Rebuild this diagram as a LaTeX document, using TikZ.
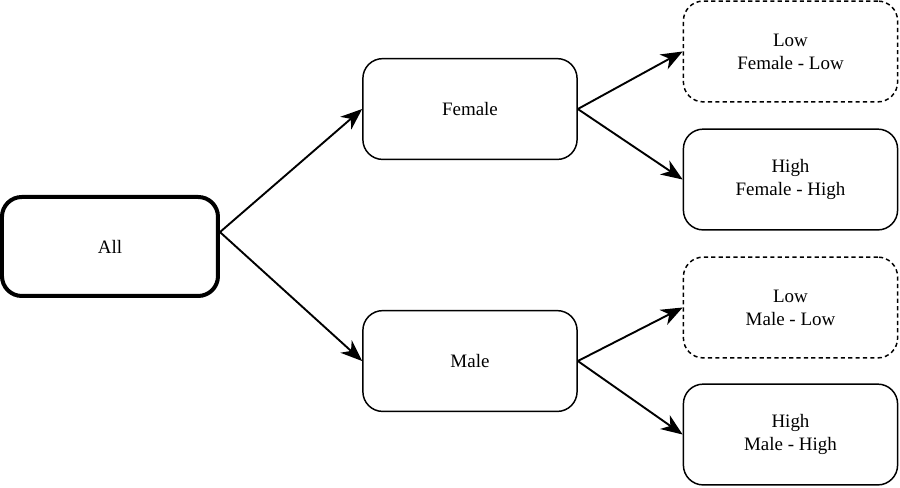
\documentclass[tikz,border=0pt]{standalone}
\usepackage{fontspec}
\setmainfont{Liberation Serif}
\usetikzlibrary{arrows.meta}
\begin{document}
\begin{tikzpicture}[>={Stealth[length=3.6mm,width=2.8mm,inset=1.1mm]},
    box/.style={draw,rounded corners=0.33cm,minimum width=3.57cm,minimum height=1.68cm,align=center,font=\small,line width=0.7pt},
    lowbox/.style={box,dash pattern=on 2pt off 1.5pt}]
\useasboundingbox (0,0) rectangle (15,-8.117);
\node[box,line width=1.9pt,minimum width=3.6cm,minimum height=1.65cm] (all) at (1.833,-4.108){All};

\node[box] (female) at (7.833,-1.817){Female};
\node[box] (male) at (7.833,-6.017){Male};

\node[lowbox] (femlow) at (13.175,-0.858){Low\\Female - Low};
\node[box] (femhigh) at (13.175,-2.992){High\\Female - High};
\node[lowbox] (mallow) at (13.175,-5.125){Low\\Male - Low};
\node[box] (malhigh) at (13.175,-7.242){High\\Male - High};

\draw[->,line width=0.9pt] ([yshift=.24cm]all.east)--(female.west);
\draw[->,line width=0.9pt] ([yshift=.24cm]all.east)--(male.west);
\draw[->,line width=0.9pt] (female.east)--(femlow.west);
\draw[->,line width=0.9pt] (female.east)--(femhigh.west);
\draw[->,line width=0.9pt] (male.east)--(mallow.west);
\draw[->,line width=0.9pt] (male.east)--(malhigh.west);
\end{tikzpicture}
\end{document}
